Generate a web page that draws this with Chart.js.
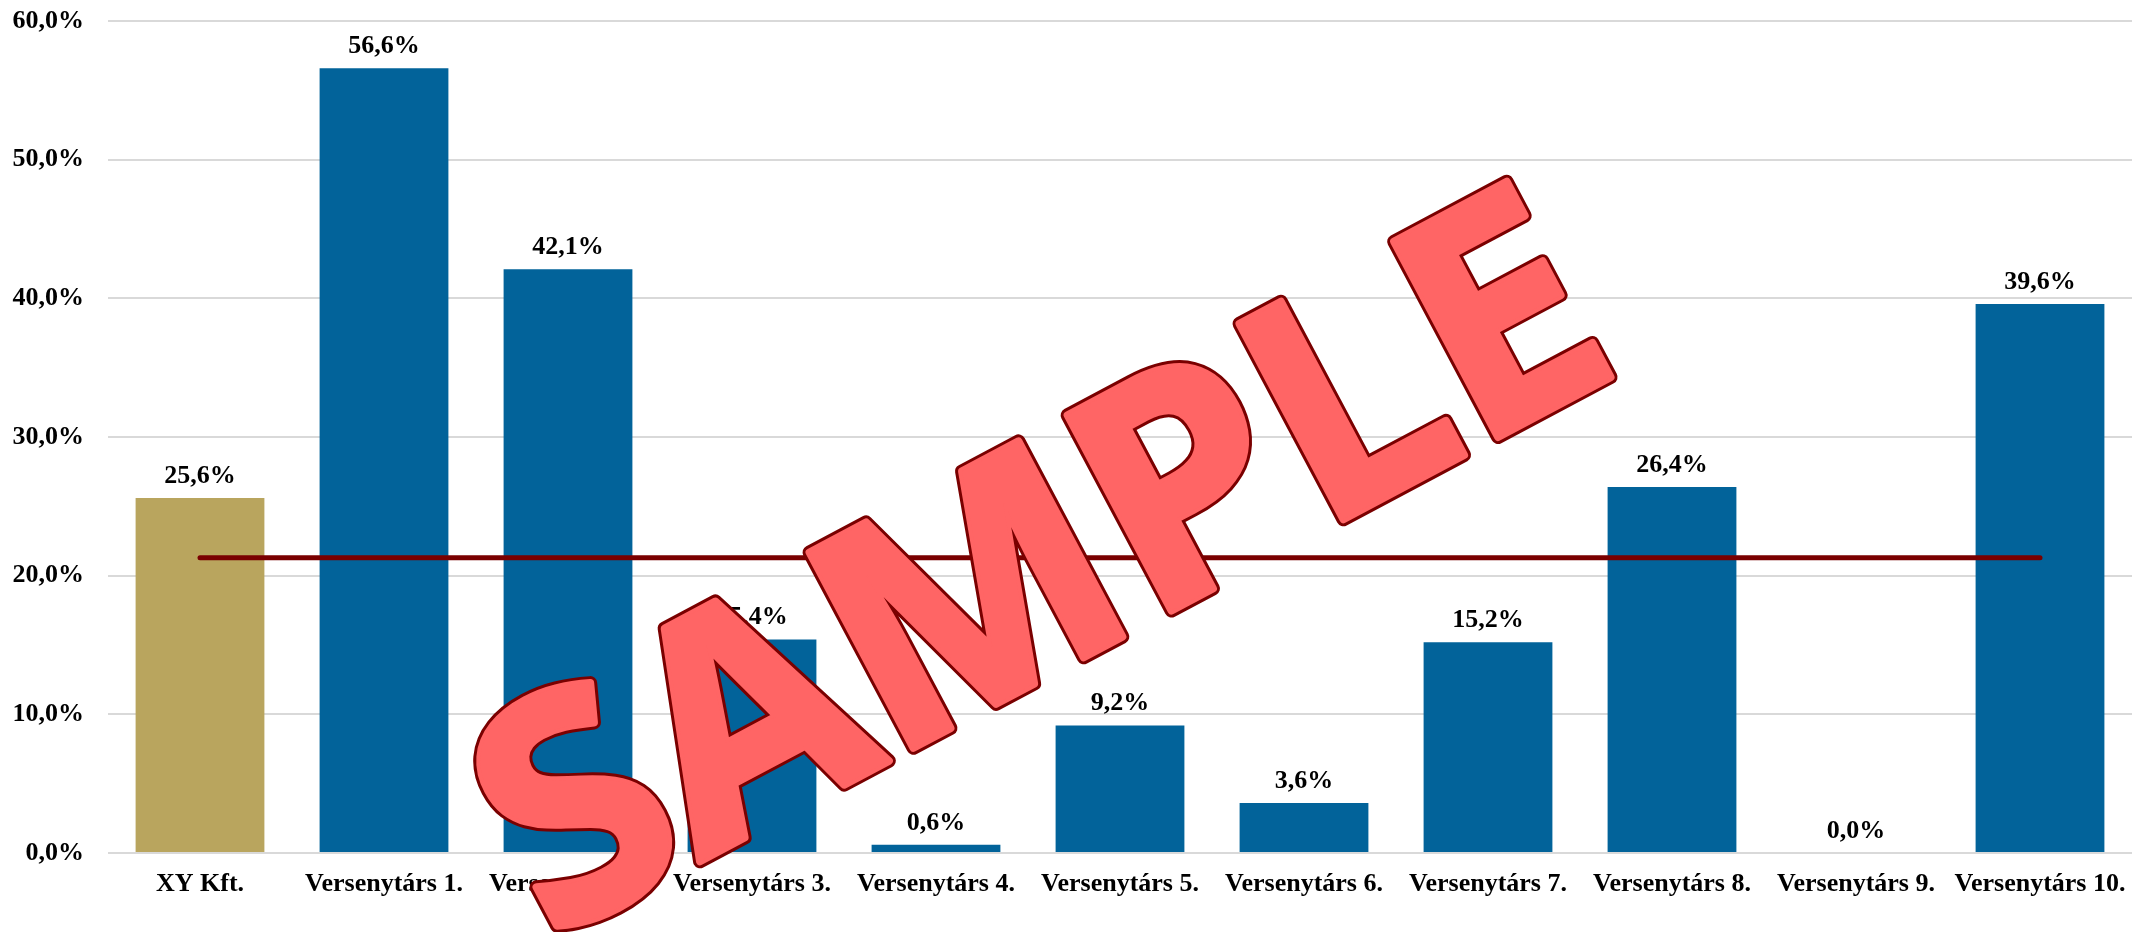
<!DOCTYPE html>
<html>
<head>
<meta charset="utf-8">
<title>Versenytársak</title>
<script src="https://cdn.jsdelivr.net/npm/chart.js@4/dist/chart.umd.min.js"></script>
<style>
  html, body { margin: 0; padding: 0; background: #ffffff; }
  canvas { display: block; }
</style>
</head>
<body>
<canvas id="chart" width="2150" height="932"></canvas>
<script>
const categories = [
    "XY Kft.", "Versenytárs 1.", "Versenytárs 2.", "Versenytárs 3.", "Versenytárs 4.",
    "Versenytárs 5.", "Versenytárs 6.", "Versenytárs 7.", "Versenytárs 8.",
    "Versenytárs 9.", "Versenytárs 10."
];
const shareValues = [25.6, 56.6, 42.1, 15.4, 0.6, 9.2, 3.6, 15.2, 26.4, 0.0, 39.6];
const averageLine = [21.3, 21.3, 21.3, 21.3, 21.3, 21.3, 21.3, 21.3, 21.3, 21.3, 21.3];
const yTicks = [0, 10, 20, 30, 40, 50, 60];
const watermarkText = "SAMPLE";

const GOLD = "#B9A55E";
const BLUE = "#02639A";
const LINE_RED = "#7A0000";
const FONT = "'Liberation Serif', 'Times New Roman', serif";

const pct = (v) => v.toFixed(1).replace(".", ",") + "%";

// value labels above the bars
const barLabels = {
    id: "barLabels",
    afterDatasetsDraw(chart) {
        const ctx = chart.ctx;
        const meta = chart.getDatasetMeta(0);
        ctx.save();
        ctx.font = "bold 26px " + FONT;
        ctx.fillStyle = "#000000";
        ctx.textAlign = "center";
        ctx.textBaseline = "alphabetic";
        meta.data.forEach((bar, i) => {
            ctx.fillText(pct(shareValues[i]), bar.x, bar.y - 15);
        });
        ctx.restore();
    }
};

// big diagonal watermark on top of everything
const watermark = {
    id: "watermark",
    afterDraw(chart) {
        const ctx = chart.ctx;
        ctx.save();
        ctx.translate(1088, 655);
        ctx.rotate(-28 * Math.PI / 180);
        ctx.font = "bold 310px 'Open Sans', 'Liberation Sans', sans-serif";
        ctx.textAlign = "center";
        ctx.textBaseline = "alphabetic";
        ctx.lineJoin = "round";
        // rounded dark outline, then fill colour over the inner part
        ctx.lineWidth = 14;
        ctx.strokeStyle = "#7A0000";
        ctx.strokeText(watermarkText, 0, 0);
        ctx.lineWidth = 8;
        ctx.strokeStyle = "#FF6565";
        ctx.strokeText(watermarkText, 0, 0);
        ctx.fillStyle = "#FF6565";
        ctx.fillText(watermarkText, 0, 0);
        ctx.restore();
    }
};

new Chart(document.getElementById("chart").getContext("2d"), {
    type: "bar",
    data: {
        labels: categories,
        datasets: [
            {
                type: "bar",
                data: shareValues,
                backgroundColor: categories.map((c, i) => (i === 0 ? GOLD : BLUE)),
                borderWidth: 0,
                categoryPercentage: 1,
                barPercentage: 0.7,
                order: 1
            },
            {
                type: "line",
                data: averageLine,
                borderColor: LINE_RED,
                borderWidth: 5,
                borderCapStyle: "round",
                pointRadius: 0,
                fill: false,
                order: 0
            }
        ]
    },
    options: {
        responsive: false,
        animation: false,
        layout: { padding: { top: 21, right: 18, left: 0, bottom: 0 } },
        plugins: {
            legend: { display: false },
            tooltip: { enabled: false }
        },
        scales: {
            x: {
                grid: { display: false, drawTicks: false },
                border: { display: false },
                ticks: {
                    color: "#000000",
                    font: { family: FONT, size: 26, weight: "bold" },
                    padding: 16,
                    maxRotation: 0,
                    minRotation: 0,
                    autoSkip: false
                },
                afterFit(scale) { scale.height = 79; }
            },
            y: {
                min: 0,
                max: 60,
                afterBuildTicks(scale) {
                    scale.ticks = yTicks.map((v) => ({ value: v }));
                },
                grid: { color: "#D9D9D9", lineWidth: 2, drawTicks: false },
                border: { display: false },
                ticks: {
                    color: "#000000",
                    font: { family: FONT, size: 26, weight: "bold" },
                    padding: 24,
                    callback: (v) => pct(v)
                },
                afterFit(scale) {
                    scale.width = 108;
                    scale.paddingTop = 0;
                    scale.paddingBottom = 0;
                }
            }
        }
    },
    plugins: [barLabels, watermark]
});
</script>
</body>
</html>
